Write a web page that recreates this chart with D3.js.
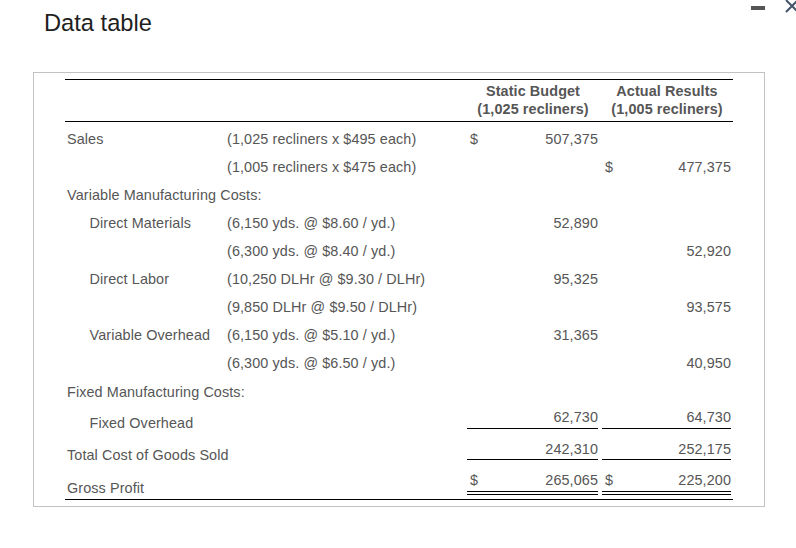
<!DOCTYPE html>
<html><head><meta charset="utf-8">
<script src="https://cdn.jsdelivr.net/npm/d3@7/dist/d3.min.js"></script>
<style>html,body{margin:0;padding:0;background:#fff;overflow:hidden}svg{display:block}text{font-family:"Liberation Sans",Arial,sans-serif;font-size:14.4px;letter-spacing:0.1px;fill:#565656}</style>
</head><body><svg id="c" width="796" height="548"></svg>
<script>
const title = "Data table";
const columnHeads = [["Static Budget","(1,025 recliners)"],["Actual Results","(1,005 recliners)"]];
const rowIds = ["sales1","sales2","varHead","dm1","dm2","dl1","dl2","vo1","vo2","fixHead","fo","cogs","gp"];
const rowLabels = ["Sales","","Variable Manufacturing Costs:","Direct Materials","","Direct Labor","","Variable Overhead","","Fixed Manufacturing Costs:","Fixed Overhead","Total Cost of Goods Sold","Gross Profit"];
const rowIndent = [0,0,0,1,0,1,0,1,0,0,1,0,0];
const rowNotes = ["(1,025 recliners x $495 each)","(1,005 recliners x $475 each)","","(6,150 yds. @ $8.60 / yd.)","(6,300 yds. @ $8.40 / yd.)","(10,250 DLHr @ $9.30 / DLHr)","(9,850 DLHr @ $9.50 / DLHr)","(6,150 yds. @ $5.10 / yd.)","(6,300 yds. @ $6.50 / yd.)","","","",""];
const staticValues = ["507,375","","","52,890","","95,325","","31,365","","","62,730","242,310","265,065"];
const actualValues = ["","477,375","","","52,920","","93,575","","40,950","","64,730","252,175","225,200"];
const staticDollar = ["sales1","gp"];
const actualDollar = ["sales2","gp"];
const singleRuleRows = ["fo","cogs"];
const doubleRuleRows = ["gp"];

const svg = d3.select("#c");
const y = d3.scaleOrdinal().domain(rowIds).range([144,172,200,228,256,284,312,340,368,397,428,460,493]);
const valueY = d3.scaleOrdinal().domain(rowIds).range([144,172,200,228,256,284,312,340,368,397,421.5,453.5,485]);
const ruleY = d3.scaleOrdinal().domain(rowIds).range([0,0,0,0,0,0,0,0,0,0,428.5,459.5,491.5]);
const labelX = d3.scaleOrdinal().domain([0,1]).range([67,89.5]);
const colSpans = [{i:0,x0:467,x1:598,dollar:470,right:598,head:533,vals:staticValues,d:staticDollar},
                  {i:1,x0:602,x1:731,dollar:605,right:731,head:667,vals:actualValues,d:actualDollar}];

svg.append("text").attr("x",44).attr("y",31).text(title).style("font-size","23.7px").style("letter-spacing","0").style("fill","#1f1f1f");
svg.append("rect").attr("x",33.5).attr("y",72.5).attr("width",731).attr("height",434).attr("fill","none").attr("stroke","#c2c2c2");

const hl=(x0,x1,yy)=>svg.append("line").attr("x1",x0).attr("x2",x1).attr("y1",yy).attr("y2",yy).attr("stroke","#000").attr("stroke-width",1).attr("shape-rendering","crispEdges");
hl(65,733,79.5); hl(65,733,121.5); hl(65,733,499.5);

rowIds.forEach((id,i)=>{
  if(rowLabels[i]) svg.append("text").attr("x",labelX(rowIndent[i])).attr("y",y(id)).text(rowLabels[i]);
  if(rowNotes[i]) svg.append("text").attr("x",227).attr("y",y(id)).text(rowNotes[i]);
});
colSpans.forEach(c=>{
  columnHeads[c.i].forEach((t,k)=>svg.append("text").attr("x",c.head).attr("y",96+k*18).attr("text-anchor","middle").style("font-weight","bold").text(t));
  rowIds.forEach((id,i)=>{
    if(c.vals[i]) svg.append("text").attr("x",c.right).attr("y",valueY(id)).attr("text-anchor","end").text(c.vals[i]);
    if(c.d.includes(id)) svg.append("text").attr("x",c.dollar).attr("y",valueY(id)).text("$");
    if(singleRuleRows.includes(id)) hl(c.x0,c.x1,ruleY(id));
    if(doubleRuleRows.includes(id)){hl(c.x0,c.x1,ruleY(id));hl(c.x0,c.x1,ruleY(id)+3);}
  });
});
svg.append("rect").attr("x",751).attr("y",6).attr("width",14).attr("height",4).attr("fill","#555");
svg.append("path").attr("d","M786,12L798,0M786,0L798,12").attr("stroke","#44546a").attr("stroke-width",2).attr("fill","none");
</script></body></html>
